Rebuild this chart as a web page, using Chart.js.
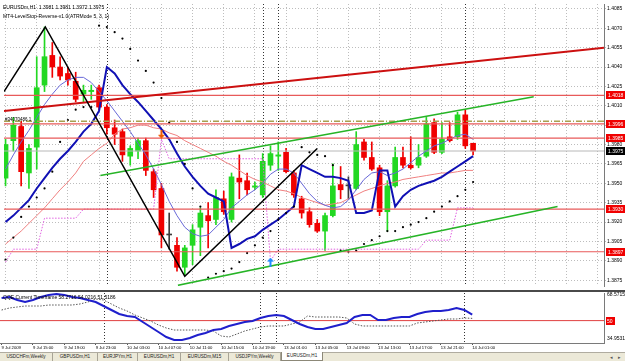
<!DOCTYPE html>
<html lang="en">
<head>
<meta charset="UTF-8">
<title>EURUSDm,H1</title>
<script src="https://cdn.jsdelivr.net/npm/chart.js@4.4.0/dist/chart.umd.min.js"></script>
<style>
  body { margin: 0; width: 625px; height: 361px; overflow: hidden; background: #fff; position: relative; font-family: "Liberation Sans", Arial, sans-serif; }
  canvas { position: absolute; left: 0; }
  .txt { position: absolute; font-size: 5px; line-height: 6px; color: #000; white-space: nowrap; }
  #sep { position: absolute; left: 0; top: 290px; width: 625px; height: 2px; background: #4a4a4a; }
  #tabs { position: absolute; left: 0; top: 352px; width: 625px; height: 9px; background: #ece9d8; border-top: 1px solid #b0aca0; box-sizing: border-box; }
  .tab { position: absolute; top: 0; height: 8px; font-size: 4.6px; line-height: 8px; text-align: center; border-right: 1px solid #a8a496; box-sizing: border-box; color: #222; }
  .tab.on { background: #fff; top: -1px; height: 9px; border: 1px solid #8c8878; border-top: none; }
  .nav { position: absolute; top: 0; font-size: 5px; line-height: 8px; color: #555; }
</style>
</head>
<body>
<canvas id="main" width="625" height="290" style="top:0"></canvas>
<div id="sep"></div>
<canvas id="qqe" width="625" height="60" style="top:292px"></canvas>

<div class="txt" style="left:3px;top:4px">EURUSDm,H1&nbsp; 1.3981 1.3981 1.3972 1.3975</div>
<div class="txt" style="left:3px;top:13px">MT4-LevelStop-Reverse-v1.0(ATRMode 5, 3, 1)</div>
<div class="txt" style="left:5px;top:117px;font-size:4.5px">#34070486 1</div>
<div class="txt" style="left:3px;top:294px">QQE Current Timeframe 58.2716 54.0216 51.5186</div>

<div id="tabs">
  <div class="tab" style="left:0;width:53px">USDCHFm,Weekly</div>
  <div class="tab" style="left:53px;width:45px">GBPUSDm,H1</div>
  <div class="tab" style="left:98px;width:40px">EURJPYm,H1</div>
  <div class="tab" style="left:138px;width:43px">EURUSDm,H1</div>
  <div class="tab" style="left:181px;width:48px">EURUSDm,M15</div>
  <div class="tab" style="left:229px;width:52px">USDJPYm,Weekly</div>
  <div class="tab on" style="left:281px;width:42px">EURUSDm,H1</div>
  <div class="nav" style="left:610px">&#9666;</div>
  <div class="nav" style="left:618px">&#9656;</div>
</div>

<script>
// time axis: one label every 4 hourly bars, bar 0 = 9 Jul 11:00
const xLabels = ['9 Jul 2009', '9 Jul 15:00', '9 Jul 19:00', '9 Jul 23:00', '10 Jul 03:00', '10 Jul 07:00',
  '10 Jul 11:00', '10 Jul 15:00', '10 Jul 19:00', '13 Jul 01:00', '13 Jul 05:00', '13 Jul 09:00',
  '13 Jul 13:00', '13 Jul 17:00', '13 Jul 21:00', '14 Jul 01:00'];
const barsPerLabel = 4;
const separators = [13, 33, 35, 59];   // day / week breaks (bar index)
const xMin = -0.2, xMax = 76.8;         // visible bar range incl. right shift

const priceMin = 1.38705, priceMax = 1.40888;
const priceTicks = [1.4085, 1.4070, 1.4055, 1.4040, 1.4025, 1.4010, 1.3995, 1.3980,
  1.3965, 1.3950, 1.3935, 1.3920, 1.3905, 1.3890, 1.3875];
const hiddenTick = 1.3995;

// EURUSDm H1 candles
const open = [1.3954, 1.3983, 1.3994, 1.3958, 1.3978, 1.4026, 1.4049, 1.4040, 1.4035, 1.4029,
  1.4019, 1.4021, 1.4024, 1.4009, 1.3993, 1.3990, 1.3971, 1.3975, 1.3983, 1.3959,
  1.3946, 1.3910, 1.3902, 1.3885, 1.3902, 1.3916, 1.3925, 1.3922, 1.3938, 1.3922,
  1.3954, 1.3952, 1.3947, 1.3941, 1.3964, 1.3971, 1.3974, 1.3958, 1.3938, 1.3928,
  1.3919, 1.3913, 1.3925, 1.3949, 1.3948, 1.3946, 1.3982, 1.3970, 1.3962, 1.3928,
  1.3948, 1.3970, 1.3964, 1.3964, 1.3971, 1.3997, 1.3974, 1.3986, 1.3986, 1.4003,
  1.3981];
const high = [1.3984, 1.4001, 1.3998, 1.3980, 1.4048, 1.4071, 1.4059, 1.4048, 1.4040, 1.4036,
  1.4026, 1.4026, 1.4026, 1.4011, 1.3999, 1.3992, 1.3979, 1.3985, 1.3985, 1.3961,
  1.3950, 1.3927, 1.3908, 1.3902, 1.3918, 1.3931, 1.3935, 1.3945, 1.3944, 1.3958,
  1.3972, 1.3958, 1.3951, 1.3973, 1.3979, 1.3982, 1.3977, 1.3960, 1.3940, 1.3931,
  1.3922, 1.3927, 1.3965, 1.3963, 1.3955, 1.3990, 1.3984, 1.3982, 1.3964, 1.3952,
  1.3978, 1.3978, 1.3986, 1.3980, 1.4001, 1.4000, 1.3997, 1.3997, 1.4005, 1.4007,
  1.3981];
const low = [1.3948, 1.3975, 1.3948, 1.3946, 1.3961, 1.4021, 1.4032, 1.4030, 1.4026, 1.4013,
  1.4013, 1.4015, 1.4007, 1.3988, 1.3980, 1.3967, 1.3964, 1.3969, 1.3956, 1.3939,
  1.3900, 1.3899, 1.3882, 1.3879, 1.3887, 1.3894, 1.3900, 1.3918, 1.3926, 1.3920,
  1.3938, 1.3941, 1.3945, 1.3939, 1.3960, 1.3960, 1.3958, 1.3939, 1.3923, 1.3916,
  1.3912, 1.3898, 1.3924, 1.3938, 1.3938, 1.3945, 1.3968, 1.3960, 1.3925, 1.3913,
  1.3947, 1.3962, 1.3961, 1.3962, 1.3970, 1.3973, 1.3973, 1.3982, 1.3984, 1.3977,
  1.3972];
const close = [1.3980, 1.3995, 1.3959, 1.3977, 1.4024, 1.4048, 1.4040, 1.4033, 1.4030, 1.4015,
  1.4022, 1.4022, 1.4009, 1.3993, 1.3988, 1.3972, 1.3977, 1.3983, 1.3960, 1.3945,
  1.3910, 1.3910, 1.3885, 1.3900, 1.3914, 1.3927, 1.3921, 1.3939, 1.3928, 1.3955,
  1.3951, 1.3945, 1.3948, 1.3967, 1.3973, 1.3972, 1.3959, 1.3941, 1.3927, 1.3918,
  1.3913, 1.3925, 1.3948, 1.3945, 1.3948, 1.3980, 1.3970, 1.3961, 1.3928, 1.3948,
  1.3970, 1.3964, 1.3962, 1.3970, 1.3996, 1.3974, 1.3984, 1.3983, 1.4003, 1.3979,
  1.3975];

// indicator lines
const blueThick = [1.3920, 1.3925, 1.3931, 1.3937, 1.3946, 1.3954, 1.3962, 1.3969, 1.3975, 1.3982,
  1.3990, 1.3996, 1.4006, 1.4040, 1.4035, 1.4026, 1.4019, 1.4013, 1.4006, 1.3999,
  1.3992, 1.3984, 1.3973, 1.3963, 1.3955, 1.3948, 1.3942, 1.3939, 1.3936, 1.3900,
  1.3903, 1.3907, 1.3909, 1.3914, 1.3918, 1.3922, 1.3927, 1.3932, 1.3964, 1.3961,
  1.3958, 1.3955, 1.3955, 1.3954, 1.3952, 1.3927, 1.3927, 1.3929, 1.3960, 1.3960,
  1.3932, 1.3940, 1.3945, 1.3948, 1.3950, 1.3952, 1.3955, 1.3959, 1.3963, 1.3967,
  1.3971];
const blueThin = [1.3961, 1.3972, 1.3982, 1.3991, 1.4001, 1.4011, 1.4019, 1.4026, 1.4030, 1.4032,
  1.4032, 1.4028, 1.4021, 1.4014, 1.4006, 1.3998, 1.3990, 1.3981, 1.3972, 1.3961,
  1.3949, 1.3936, 1.3925, 1.3916, 1.3911, 1.3909, 1.3910, 1.3916, 1.3922, 1.3931,
  1.3936, 1.3941, 1.3945, 1.3950, 1.3957, 1.3961, 1.3961, 1.3958, 1.3950, 1.3942,
  1.3936, 1.3933, 1.3931, 1.3932, 1.3937, 1.3945, 1.3953, 1.3958, 1.3959, 1.3956,
  1.3958, 1.3961, 1.3966, 1.3971, 1.3975, 1.3979, 1.3981, 1.3984, 1.3987, 1.3988,
  1.3984];
const salmonMa = [1.3903, 1.3908, 1.3913, 1.3919, 1.3925, 1.3931, 1.3938, 1.3945, 1.3951, 1.3958,
  1.3967, 1.3972, 1.3977, 1.3981, 1.3988, 1.3992, 1.3993, 1.3995, 1.3995, 1.3993,
  1.3992, 1.3989, 1.3987, 1.3983, 1.3980, 1.3977, 1.3974, 1.3971, 1.3967, 1.3964,
  1.3960, 1.3956, 1.3953, 1.3951, 1.3948, 1.3945, 1.3944, 1.3942, 1.3939, 1.3937,
  1.3935, 1.3933, 1.3934, 1.3935, 1.3938, 1.3941, 1.3944, 1.3946, 1.3948, 1.3950,
  1.3951, 1.3953, 1.3954, 1.3955, 1.3956, 1.3957, 1.3958, 1.3958, 1.3959, 1.3960,
  1.3960];
const pinkStop = [1.3889, 1.3899, 1.3899, 1.3899, 1.3899, 1.3923, 1.3923, 1.3923, 1.3923, 1.3923,
  1.3930, 1.3930, 1.3930, 1.3930, 1.3930, 1.3930, 1.3930, 1.3930, 1.3930, 1.3930,
  1.3984, 1.3969, 1.3969, 1.3969, 1.3969, 1.3969, 1.3969, 1.3969, 1.3969, 1.3969,
  1.3969, 1.3969, 1.3969, 1.3969, 1.3890, 1.3899, 1.3899, 1.3899, 1.3899, 1.3899,
  1.3899, 1.3899, 1.3899, 1.3899, 1.3899, 1.3899, 1.3899, 1.3899, 1.3899, 1.3899,
  1.3899, 1.3899, 1.3899, 1.3899, 1.3906, 1.3906, 1.3906, 1.3906, 1.3931, 1.3931,
  1.3931];
const stopDots = [1.3891, 1.3908, 1.3924, 1.3932, 1.3939, 1.3946, 1.3959, 1.3982, 1.3999, 1.4007,
  1.4009, 1.4009, 1.4072, 1.4071, 1.4067, 1.4062, 1.4054, 1.4045, 1.4037, 1.4028,
  1.4016, 1.3997, 1.3982, 1.3965, 1.3946, 1.3932, 1.3877, 1.3880, 1.3882, 1.3884,
  1.3889, 1.3896, 1.3902, 1.3908, 1.3913, 1.3922, 1.3927, 1.3932, 1.3978, 1.3974,
  1.3972, 1.3971, 1.3964, 1.3898, 1.3897, 1.3898, 1.3903, 1.3906, 1.3909, 1.3913,
  1.3913, 1.3916, 1.3918, 1.3920, 1.3923, 1.3928, 1.3932, 1.3936, 1.3940, 1.3945,
  1.3951];

// drawn objects: [bar index, price]
const redTrend = [[xMin, 1.4006], [xMax, 1.4055]];
const greenUpper = [[12.17, 1.3956], [67.78, 1.4017]];
const greenLower = [[22.12, 1.3871], [70.84, 1.3932]];
const zigzag = [[xMin, 1.4021], [5.1, 1.4071], [23, 1.3878], [40, 1.3977]];
const levelLines = [1.4018, 1.3996, 1.3985, 1.3930, 1.3897];
const orderLevel = 1.3998;
const bidLevel = 1.3975;
const sellArrow = [20, 1.3988];
const buyArrow = [34, 1.3889];

// QQE sub window
const qqeFast = [65.21, 65.88, 63.87, 62.52, 63.87, 65.88, 67.23, 67.90, 67.23, 65.88,
  65.21, 63.87, 62.52, 59.83, 57.14, 54.45, 53.11, 52.43, 49.07, 45.71,
  42.35, 38.99, 36.97, 36.97, 38.32, 40.33, 41.68, 43.70, 44.37, 46.39,
  47.73, 49.07, 49.75, 51.76, 53.11, 53.78, 53.11, 50.42, 47.73, 45.71,
  44.37, 44.37, 45.71, 47.06, 48.40, 52.43, 53.78, 53.78, 50.42, 50.42,
  51.76, 52.43, 52.43, 54.45, 55.80, 56.47, 56.47, 57.14, 58.49, 57.14,
  54.02];
const qqeSlow = [57.14, 58.49, 59.16, 59.83, 59.83, 59.83, 60.50, 60.50, 60.50, 60.50,
  61.18, 62.52, 64.54, 63.87, 61.18, 58.49, 56.47, 53.78, 51.76, 49.75,
  47.06, 45.04, 43.69, 43.69, 43.69, 43.69, 43.69, 43.02, 39.66, 38.99,
  41.00, 43.02, 44.37, 45.71, 46.39, 46.39, 46.39, 47.73, 49.07, 53.11,
  52.43, 52.43, 52.43, 52.43, 51.76, 47.73, 46.39, 46.39, 46.39, 46.39,
  46.39, 46.39, 46.39, 48.40, 49.07, 49.75, 50.42, 51.09, 51.09, 51.76,
  51.52];
const qqeLevel = 50;
const qqeMin = 34.9531, qqeMax = 68.5715;

// ---- helpers
const series = arr => arr.map((v, i) => ({x: i, y: v}));
const pairs = arr => arr.map(p => ({x: p[0], y: p[1]}));
const flat = v => [{x: xMin, y: v}, {x: xMax, y: v}];
const FONT = 'Liberation Sans';

const candleColor = open.map((o, i) => close[i] > o ? '#22d822' : (close[i] < o ? '#f00000' : '#3c3c3c'));

function arrowIcon(color, up) {
  const c = document.createElement('canvas');
  c.width = 7; c.height = 9;
  const g = c.getContext('2d');
  g.fillStyle = color;
  if (up) {
    g.beginPath(); g.moveTo(3.5, 0); g.lineTo(7, 4); g.lineTo(0, 4); g.closePath(); g.fill();
    g.fillRect(2.5, 4, 2, 5);
  } else {
    g.fillRect(2.5, 0, 2, 5);
    g.beginPath(); g.moveTo(0, 5); g.lineTo(7, 5); g.lineTo(3.5, 9); g.closePath(); g.fill();
  }
  return c;
}

// dotted day separators for both windows
const separatorPlugin = {
  id: 'separators',
  beforeDatasetsDraw(chart) {
    const {ctx, chartArea: a} = chart;
    const x = chart.scales.x;
    ctx.save();
    ctx.strokeStyle = '#333';
    ctx.lineWidth = 1;
    ctx.setLineDash([1, 2]);
    separators.forEach(i => {
      const px = Math.round(x.getPixelForValue(i)) + 0.5;
      ctx.beginPath();
      ctx.moveTo(px, a.top);
      ctx.lineTo(px, a.bottom);
      ctx.stroke();
    });
    ctx.restore();
  }
};

// coloured price labels on the right axis
const priceBoxPlugin = {
  id: 'priceBoxes',
  afterDraw(chart) {
    const {ctx, chartArea: a} = chart;
    const y = chart.scales.y;
    const box = (v, bg) => {
      const py = Math.round(y.getPixelForValue(v));
      ctx.fillStyle = bg;
      ctx.fillRect(a.right + 2, py - 4, 19, 8);
      ctx.fillStyle = '#fff';
      ctx.font = '5px ' + FONT;
      ctx.textBaseline = 'middle';
      ctx.fillText(v.toFixed(4), a.right + 4, py + 0.5);
    };
    levelLines.forEach(v => box(v, '#f00000'));
    box(bidLevel, '#000');
  }
};

const qqeLabelPlugin = {
  id: 'qqeLabels',
  afterDraw(chart) {
    const {ctx, chartArea: a} = chart;
    const y = chart.scales.y;
    ctx.save();
    ctx.font = '5px ' + FONT;
    ctx.textBaseline = 'middle';
    ctx.fillStyle = '#000';
    ctx.fillText(qqeMax.toFixed(4), a.right + 3, a.top + 2);
    ctx.fillText(qqeMin.toFixed(4), a.right + 3, a.bottom - 4);
    const py = Math.round(y.getPixelForValue(qqeLevel));
    ctx.fillStyle = '#f00000';
    ctx.fillRect(a.right + 2, py - 4, 9, 8);
    ctx.fillStyle = '#fff';
    ctx.fillText(String(qqeLevel), a.right + 3, py + 0.5);
    ctx.restore();
  }
};

const line = (label, data, color, width, extra) => Object.assign({
  type: 'line', label, data, borderColor: color, borderWidth: width,
  pointRadius: 0, tension: 0, fill: false
}, extra || {});

const gridIdx = [];
for (let v = 0; v <= xMax; v += barsPerLabel) gridIdx.push(v);
const labelIdx = xLabels.map((_, k) => k * barsPerLabel);

// ---- main price window
new Chart(document.getElementById('main'), {
  type: 'line',
  data: {
    datasets: [
      {type: 'bar', label: 'wick', data: open.map((_, i) => ({x: i, y: [low[i], high[i]]})),
        backgroundColor: candleColor, barThickness: 1, grouped: false, order: 30},
      {type: 'bar', label: 'body', data: open.map((o, i) => ({x: i, y: [o, close[i]]})),
        backgroundColor: candleColor, barThickness: 5, minBarLength: 1, grouped: false, order: 29},
      line('bid', flat(bidLevel), '#b8b8b8', 1, {order: 25}),
      line('salmon', series(salmonMa), '#f08080', 1, {order: 20}),
      line('thin blue', series(blueThin), '#6868d8', 1, {order: 19}),
      line('stop', series(pinkStop), '#e060e0', 1, {borderDash: [1.5, 1.5], order: 18}),
      line('thick blue', series(blueThick), '#1010b4', 2, {order: 17}),
      line('dots', series(stopDots), '#000', 0, {showLine: false, pointRadius: 1.1,
        pointBackgroundColor: '#000', pointBorderWidth: 0, order: 16}),
      ...levelLines.map(v => line('level ' + v, flat(v), '#e85a5a', 1.2, {order: 10})),
      line('order', flat(orderLevel), '#a8a050', 1.4, {borderDash: [6, 2, 1, 2], order: 10}),
      line('red trend', pairs(redTrend), '#cc1010', 2, {order: 8}),
      line('green upper', pairs(greenUpper), '#26b426', 1.5, {order: 8}),
      line('green lower', pairs(greenLower), '#26b426', 1.5, {order: 8}),
      line('zigzag', pairs(zigzag), '#000', 1.5, {order: 7}),
      line('sell', pairs([sellArrow]), '#f05a00', 0, {showLine: false, pointRadius: 4,
        pointStyle: arrowIcon('#f05a00', false), order: 1}),
      line('buy', pairs([buyArrow]), '#1e8cff', 0, {showLine: false, pointRadius: 4,
        pointStyle: arrowIcon('#1e8cff', true), order: 1})
    ]
  },
  options: {
    responsive: false,
    animation: false,
    events: [],
    layout: {padding: {left: 0, top: 3, right: 0, bottom: 0}},
    plugins: {legend: {display: false}, tooltip: {enabled: false}},
    scales: {
      x: {
        type: 'linear', min: xMin, max: xMax, offset: false,
        afterBuildTicks: s => { s.ticks = gridIdx.map(v => ({value: v})); },
        ticks: {display: false},
        grid: {color: '#bdbdbd', lineWidth: 1, drawTicks: false, offset: false},
        border: {display: false, dash: [1, 2]},
        afterFit: s => { s.height = 1; }
      },
      y: {
        position: 'right', min: priceMin, max: priceMax,
        afterBuildTicks: s => { s.ticks = priceTicks.map(v => ({value: v})); },
        ticks: {
          font: {family: FONT, size: 5}, color: '#000', padding: 1,
          callback: v => v === hiddenTick ? '' : v.toFixed(4)
        },
        grid: {color: '#bdbdbd', lineWidth: 1, tickLength: 2},
        border: {display: true, color: '#7a7a7a', dash: [1, 2]},
        afterFit: s => { s.width = 21; }
      }
    }
  },
  plugins: [separatorPlugin, priceBoxPlugin]
});

// ---- QQE window
new Chart(document.getElementById('qqe'), {
  type: 'line',
  data: {
    datasets: [
      line('level', flat(qqeLevel), '#e04040', 1, {order: 10}),
      line('QQE slow', series(qqeSlow), '#555', 1, {borderDash: [1.5, 1.5], order: 5}),
      line('QQE', series(qqeFast), '#1f1fcc', 2, {order: 4})
    ]
  },
  options: {
    responsive: false,
    animation: false,
    events: [],
    layout: {padding: {left: 0, top: 1, right: 0, bottom: 0}},
    plugins: {legend: {display: false}, tooltip: {enabled: false}},
    scales: {
      x: {
        type: 'linear', min: xMin, max: xMax, offset: false,
        afterBuildTicks: s => { s.ticks = labelIdx.map(v => ({value: v})); },
        ticks: {
          font: {family: FONT, size: 4.2}, color: '#000', align: 'start',
          maxRotation: 0, autoSkip: false, padding: 0,
          callback: (v, k) => xLabels[k]
        },
        grid: {drawOnChartArea: false, drawTicks: true, tickLength: 2, color: '#555'},
        border: {display: true, color: '#7a7a7a'},
        afterFit: s => { s.height = 9; }
      },
      y: {
        position: 'right', min: qqeMin, max: qqeMax,
        ticks: {display: false},
        grid: {display: false},
        border: {display: true, color: '#7a7a7a'},
        afterFit: s => { s.width = 21; }
      }
    }
  },
  plugins: [separatorPlugin, qqeLabelPlugin]
});
</script>
</body>
</html>
